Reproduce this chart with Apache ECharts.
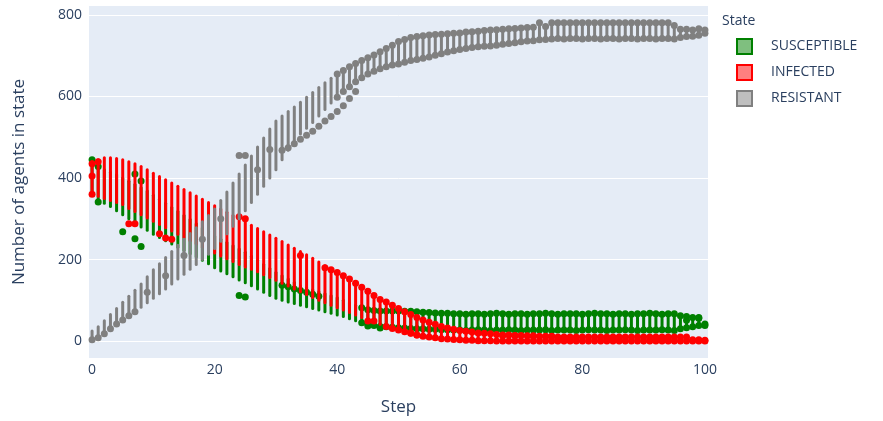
<!DOCTYPE html>
<html>
<head>
<meta charset="utf-8">
<script src="https://cdn.jsdelivr.net/npm/echarts@6/dist/echarts.min.js"></script>
<style>
  html, body { margin: 0; padding: 0; background: #ffffff; }
  #chart { width: 883px; height: 421px; }
</style>
</head>
<body>
<div id="chart"></div>
<script>
// Agent counts per step (index = step 0..100): spread of the runs as low/high per state
const susceptibleLow = [370,345,338,330,320,310,300,290,280,272,262,254,246,238,230,222,214,206,198,190,
  180,172,165,158,150,143,136,128,120,112,105,100,96,92,88,84,80,76,72,68,64,60,55,50,45,41,38,36,35,34,
  33,32,31,30,30,29,29,28,28,27,27,26,27,28,27,26,27,27,28,27,26,27,27,27,28,26,27,27,27,26,27,28,27,27,26,
  27,27,28,27,26,27,27,27,28,27,26,30,33,35,38,38];
const susceptibleHigh = [445,428,420,414,408,400,392,384,376,368,358,348,338,328,318,308,298,288,278,268,
  258,250,242,234,226,218,208,198,188,178,168,160,152,144,136,131,126,121,116,111,106,100,94,88,82,77,75,74,74,74,
  74,73,73,72,71,70,69,68,68,67,67,66,67,67,66,67,68,67,66,67,67,66,67,67,68,67,66,67,67,67,66,67,68,67,67,
  66,67,67,66,67,67,68,67,66,67,67,62,60,58,56,42];
const susceptibleExtra = [[0,445],[1,428],[1,341],[5,268],[7,251],[8,232],[7,410],[8,393],[24,112],[25,108],
  [31,137],[32,133],[33,128],[34,124],[35,120],[36,115],[37,110],[45,37],[47,32],[97,51],[99,58]];

const infectedLow = [358,355,350,345,340,335,325,318,310,302,294,286,278,270,262,254,246,238,230,223,
  216,209,202,195,188,182,176,170,163,156,149,142,135,128,121,114,107,100,94,88,82,76,70,64,58,52,46,41,36,31,
  27,23,19,15,12,10,8,6,5,4,3,2,2,1,1,1,0,0,0,0,0,0,0,0,0,0,0,0,0,0,0,0,0,0,0,
  0,0,0,0,0,0,0,0,0,0,0,0,0,0,0,0];
const infectedHigh = [440,445,450,450,448,445,440,435,428,420,412,404,396,388,380,372,364,356,348,340,
  332,324,316,308,300,292,284,276,268,260,252,244,236,228,220,212,203,194,185,176,167,158,149,140,131,122,113,104,96,88,
  80,72,65,58,52,46,41,36,32,29,26,24,22,20,19,18,16,15,15,14,14,13,13,12,12,12,10,10,10,10,10,10,10,10,10,
  10,10,10,10,10,10,10,10,10,10,10,10,10,3,3,2];
const infectedExtra = [[0,435],[0,405],[0,360],[1,440],[6,288],[7,288],[11,263],[12,253],[13,250],[24,305],[25,300],
  [34,210],[38,180],[39,175],[40,168],[41,160],[42,152],[43,142],[44,132],[45,122],[46,112],[47,102],
  [45,49],[46,49],[52,20],[53,15],[67,13],[69,13],[72,12],[74,11],[75,11]];

const resistantLow = [3,8,18,30,42,52,62,72,83,94,105,116,128,140,152,164,176,188,200,213,
  227,245,263,282,300,320,340,360,380,400,420,445,468,490,508,522,536,552,568,584,598,612,624,636,646,655,662,668,673,677,
  680,684,688,691,694,697,701,705,709,712,715,718,720,722,723,724,726,728,730,732,734,736,737,739,740,741,
  742,741,742,742,741,742,742,741,742,742,741,742,742,741,742,742,741,742,742,741,745,747,748,750,755];
const resistantHigh = [25,35,50,65,80,95,110,125,140,158,175,190,205,220,235,250,264,278,293,308,
  324,345,366,388,410,432,454,476,498,520,540,552,563,574,586,598,610,622,634,645,655,664,673,681,688,695,702,710,718,726,
  735,740,745,747,749,751,752,753,754,755,756,758,759,760,762,763,764,765,766,767,768,769,770,781,772,781,
  781,781,781,781,781,781,781,781,781,781,781,781,781,781,781,781,781,781,781,774,765,765,763,766,763];
const resistantExtra = [[0,3],[1,8],[2,18],[3,30],[4,42],[5,52],[6,62],[7,72],[9,120],[12,160],[15,210],
  [18,250],[21,300],[24,455],[25,455],[27,420],[29,470],
  [31,468],[32,474],[33,484],[34,495],[35,505],[36,515],[37,527],
  [38,540],[39,551],[40,563],[41,577],[42,595],[43,612]];

const stateNames = ['SUSCEPTIBLE', 'INFECTED', 'RESISTANT'];
const stateColors = ['#008000', '#ff0000', '#808080'];
const legendFills = ['rgba(0,128,0,0.5)', 'rgba(255,0,0,0.5)', 'rgba(128,128,128,0.5)'];
// First step from which the run extremes carry a marker (earlier steps show bare stems)
const markFrom = [44, 48, 40];

const textColor = '#2a3f5f';
const fontFamily = '"Open Sans", verdana, arial, sans-serif';

// Vertical stem joining the runs at one step
function stemSeries(name, low, high, color, z) {
  return {
    type: 'custom',
    name: name,
    z: z,
    clip: false,
    silent: true,
    data: low.map((v, i) => [i, v, high[i]]),
    encode: { x: 0, y: [1, 2] },
    renderItem: function (params, api) {
      const a = api.coord([api.value(0), api.value(1)]);
      const b = api.coord([api.value(0), api.value(2)]);
      return {
        type: 'line',
        shape: { x1: a[0], y1: a[1], x2: b[0], y2: b[1] },
        style: { stroke: color, lineWidth: 3, lineCap: 'round' }
      };
    }
  };
}

// Markers at the stem ends plus the stray runs
function dotSeries(name, low, high, extra, from, color, z) {
  const pts = [];
  low.forEach((v, i) => {
    if (i >= from) { pts.push([i, v]); pts.push([i, high[i]]); }
  });
  extra.forEach(p => pts.push(p));
  return {
    type: 'scatter',
    name: name,
    z: z,
    clip: false,
    silent: true,
    symbolSize: 7,
    itemStyle: { color: color, opacity: 1 },
    data: pts
  };
}

const lows = [susceptibleLow, infectedLow, resistantLow];
const highs = [susceptibleHigh, infectedHigh, resistantHigh];
const extras = [susceptibleExtra, infectedExtra, resistantExtra];

const series = [];
stateNames.forEach((name, k) => {
  series.push(stemSeries(name, lows[k], highs[k], stateColors[k], 2 + 2 * k));
  series.push(dotSeries(name, lows[k], highs[k], extras[k], markFrom[k], stateColors[k], 3 + 2 * k));
});

const chart = echarts.init(document.getElementById('chart'), null, { renderer: 'canvas' });

chart.setOption({
  animation: false,
  backgroundColor: '#ffffff',
  textStyle: { fontFamily: fontFamily, color: textColor },
  grid: {
    left: 89, right: 175, top: 6, bottom: 61,
    show: true, backgroundColor: '#E5ECF6', borderWidth: 0
  },
  xAxis: {
    type: 'value',
    min: -0.5, max: 100.5,
    splitNumber: 5,
    axisLine: { show: false },
    axisTick: { show: false },
    splitLine: { show: false },
    axisLabel: {
      showMinLabel: false, showMaxLabel: false,
      color: textColor, fontSize: 14, fontFamily: fontFamily, margin: 5,
      formatter: v => (v % 20 === 0 ? String(v) : '')
    },
    name: 'Step',
    nameLocation: 'middle',
    nameGap: 41,
    nameTextStyle: { color: textColor, fontSize: 17, fontFamily: fontFamily }
  },
  yAxis: {
    type: 'value',
    min: -41.5, max: 822,
    splitNumber: 5,
    axisLine: { show: false },
    axisTick: { show: false },
    splitLine: {
      show: true, showMinLine: false, showMaxLine: false,
      lineStyle: { color: '#ffffff', width: 1 }
    },
    axisLabel: {
      showMinLabel: false, showMaxLabel: false,
      color: textColor, fontSize: 14, fontFamily: fontFamily, margin: 7,
      formatter: v => (v % 200 === 0 ? String(v) : '')
    },
    name: 'Number of agents in state',
    nameLocation: 'middle',
    nameGap: 61,
    nameTextStyle: { color: textColor, fontSize: 17, fontFamily: fontFamily }
  },
  legend: {
    orient: 'vertical',
    left: 731, top: 33,
    itemWidth: 15, itemHeight: 15, itemGap: 9,
    icon: 'rect',
    selectedMode: false,
    textStyle: { color: textColor, fontSize: 14, fontFamily: fontFamily, padding: [0, 0, 0, 14] },
    data: stateNames.map((n, k) => ({
      name: n,
      itemStyle: { color: legendFills[k], borderColor: stateColors[k], borderWidth: 2 }
    }))
  },
  graphic: [{
    type: 'text', left: 722, top: 14,
    style: { text: 'State', fill: textColor, fontSize: 14, fontFamily: fontFamily }
  }],
  series: series
});
</script>
</body>
</html>
